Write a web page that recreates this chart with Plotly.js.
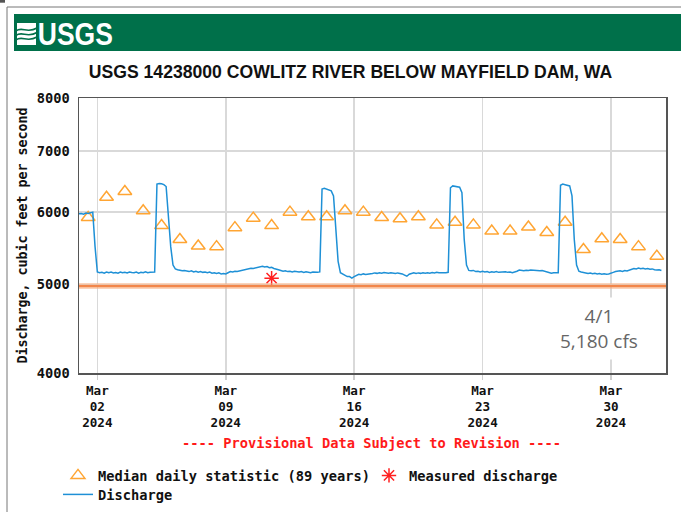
<!DOCTYPE html>
<html><head><meta charset="utf-8">
<script src="https://cdn.plot.ly/plotly-3.0.1.min.js"></script>
<style>html,body{margin:0;padding:0;background:#fff}</style>
</head><body><div id="chart" style="width:681px;height:512px"></div>
<script>
// ---------------- DATA ----------------
const siteTitle = 'USGS 14238000 COWLITZ RIVER BELOW MAYFIELD DAM, WA';
const provisionalText = '---- Provisional Data Subject to Revision ----';
const yAxisTitle = 'Discharge, cubic feet per second';
const agencyText = 'USGS';

// Discharge (cfs), read every 3 hours from 2024-03-01 00:00
const dischargeStart = [2024, 3, 1, 0];
const dischargeStepHours = 3;
const dischargeValues = [
  5975, 5980, 5970, 5985, 5980, 5990, 6000, 5500, // Mar 1
  5160, 5150, 5155, 5145, 5160, 5150, 5158, 5148, // Mar 2
  5152, 5145, 5160, 5150, 5155, 5148, 5160, 5152, // Mar 3
  5150, 5158, 5145, 5155, 5150, 5162, 5150, 5155, // Mar 4
  5155, 5160, 6440, 6450, 6445, 6430, 6400, 5900, // Mar 5
  5500, 5250, 5200, 5190, 5185, 5175, 5180, 5170, // Mar 6
  5165, 5175, 5160, 5170, 5158, 5165, 5155, 5160, // Mar 7
  5150, 5158, 5145, 5150, 5140, 5148, 5135, 5140, // Mar 8
  5135, 5150, 5165, 5160, 5170, 5165, 5172, 5180, // Mar 9
  5185, 5195, 5200, 5210, 5205, 5215, 5225, 5230, // Mar 10
  5235, 5225, 5230, 5215, 5220, 5205, 5200, 5190, // Mar 11
  5180, 5170, 5175, 5165, 5170, 5160, 5168, 5162, // Mar 12
  5160, 5165, 5155, 5162, 5158, 5150, 5160, 5155, // Mar 13
  5155, 5160, 6360, 6370, 6360, 6350, 6330, 6250, // Mar 14
  5700, 5300, 5150, 5130, 5120, 5100, 5100, 5082, // Mar 15
  5100, 5120, 5130, 5125, 5135, 5128, 5132, 5130, // Mar 16
  5140, 5148, 5142, 5150, 5145, 5152, 5148, 5145, // Mar 17
  5150, 5145, 5140, 5148, 5142, 5135, 5120, 5105, // Mar 18
  5130, 5145, 5150, 5140, 5148, 5142, 5150, 5145, // Mar 19
  5150, 5145, 5152, 5148, 5155, 5150, 5148, 5152, // Mar 20
  5150, 5155, 6380, 6410, 6400, 6395, 6390, 6300, // Mar 21
  5600, 5250, 5180, 5175, 5180, 5165, 5170, 5160, // Mar 22
  5168, 5160, 5165, 5155, 5162, 5158, 5165, 5155, // Mar 23
  5160, 5158, 5162, 5155, 5160, 5150, 5158, 5170, // Mar 24
  5185, 5180, 5175, 5182, 5178, 5185, 5180, 5176, // Mar 25
  5180, 5175, 5178, 5170, 5160, 5150, 5145, 5150, // Mar 26
  5148, 5150, 6420, 6440, 6430, 6420, 6410, 6250, // Mar 27
  5600, 5250, 5170, 5160, 5150, 5145, 5140, 5145, // Mar 28
  5138, 5142, 5135, 5140, 5132, 5138, 5130, 5135, // Mar 29
  5140, 5155, 5165, 5170, 5175, 5168, 5178, 5172, // Mar 30
  5185, 5195, 5205, 5200, 5210, 5202, 5208, 5200, // Mar 31
  5205, 5195, 5200, 5190, 5185, 5190, 5180        // Apr 1
];

// Median daily statistic (89 years), one per day at noon
const medianDates = [
  '2024-03-01 12:00','2024-03-02 12:00','2024-03-03 12:00','2024-03-04 12:00',
  '2024-03-05 12:00','2024-03-06 12:00','2024-03-07 12:00','2024-03-08 12:00',
  '2024-03-09 12:00','2024-03-10 12:00','2024-03-11 12:00','2024-03-12 12:00',
  '2024-03-13 12:00','2024-03-14 12:00','2024-03-15 12:00','2024-03-16 12:00',
  '2024-03-17 12:00','2024-03-18 12:00','2024-03-19 12:00','2024-03-20 12:00',
  '2024-03-21 12:00','2024-03-22 12:00','2024-03-23 12:00','2024-03-24 12:00',
  '2024-03-25 12:00','2024-03-26 12:00','2024-03-27 12:00','2024-03-28 12:00',
  '2024-03-29 12:00','2024-03-30 12:00','2024-03-31 12:00','2024-04-01 12:00'
];
const medianValues = [
  5920, 6230, 6320, 6020, 5800, 5600, 5510, 5500,
  5770, 5910, 5800, 6000, 5930, 5930, 6020, 6000,
  5920, 5900, 5930, 5810, 5850, 5810, 5720, 5720,
  5780, 5700, 5850, 5460, 5610, 5600, 5500, 5370
];

// Measured discharge
const measuredDates = ['2024-03-11 12:00'];
const measuredValues = [5080];

// Horizontal reference level (orange line)
const referenceLevel = 4980;

// Axis ticks
const xRange = ['2024-03-01 00:00', '2024-04-02 00:00'];
const xTickDates = ['2024-03-02', '2024-03-09', '2024-03-16', '2024-03-23', '2024-03-30'];
const xTickLabels = ['Mar<br>02<br>2024', 'Mar<br>09<br>2024', 'Mar<br>16<br>2024', 'Mar<br>23<br>2024', 'Mar<br>30<br>2024'];
const yTickValues = [4000, 5000, 6000, 7000, 8000];
const yTickLabels = ['4000', '5000', '6000', '7000', '8000'];
const yRangeValues = [4000, 8000];

const calloutText = '4/1<br>5,180 cfs';

// ---------------- BUILD ----------------
function pad2(n) { return (n < 10 ? '0' : '') + n; }
const dischargeDates = dischargeValues.map((v, i) => {
  const d = new Date(Date.UTC(dischargeStart[0], dischargeStart[1] - 1, dischargeStart[2], dischargeStart[3] + i * dischargeStepHours));
  return d.getUTCFullYear() + '-' + pad2(d.getUTCMonth() + 1) + '-' + pad2(d.getUTCDate()) + ' ' + pad2(d.getUTCHours()) + ':00';
});

const W = 681, H = 512;
const M = { l: 79, r: 15, t: 98, b: 139 };
const PW = W - M.l - M.r, PH = H - M.t - M.b;
const px = x => (x - M.l) / PW;          // pixel -> paper (x)
const py = y => (H - M.b - y) / PH;      // pixel -> paper (y)
const P = (x, y) => px(x).toFixed(5) + ',' + py(y).toFixed(5);

const mono = 'DejaVu Sans Mono, monospace';
const monoFont = { family: mono, size: 13.7, color: '#111', weight: 'bold' };
const tickFontX = { family: mono, size: 12.6, color: '#111', weight: 'bold' };

const traces = [
  {
    type: 'scatter', mode: 'markers', name: 'Median daily statistic (89 years)',
    x: medianDates, y: medianValues, legend: 'legend',
    marker: { symbol: 'triangle-up-open', size: 12, color: '#FFA533', line: { width: 1.5, color: '#FFA533' } },
    hoverinfo: 'skip'
  },
  {
    type: 'scatter', mode: 'markers', name: 'Measured discharge',
    x: measuredDates, y: measuredValues, legend: 'legend2',
    marker: { symbol: 'asterisk-open', size: 12, color: '#FF2020', line: { width: 1.5, color: '#FF2020' } },
    hoverinfo: 'skip'
  },
  {
    type: 'scatter', mode: 'lines', name: 'Discharge',
    x: dischargeDates, y: dischargeValues, legend: 'legend3',
    line: { color: '#1E90D6', width: 1.5 },
    hoverinfo: 'skip'
  }
];

const shapes = [
  // corner mark
  { type: 'rect', xref: 'paper', yref: 'paper', x0: px(-2), x1: px(5), y0: py(-2), y1: py(2.7),
    line: { width: 0 }, fillcolor: '#555555' },
  // outer frame
  { type: 'rect', xref: 'paper', yref: 'paper', x0: px(7), x1: px(700), y0: py(7), y1: py(530),
    line: { color: '#777', width: 1 }, fillcolor: 'rgba(0,0,0,0)' },
  // green banner
  { type: 'rect', xref: 'paper', yref: 'paper', x0: px(14), x1: px(690), y0: py(14), y1: py(51),
    line: { width: 0 }, fillcolor: '#00704A' },
  // logo field
  { type: 'rect', xref: 'paper', yref: 'paper', x0: px(17), x1: px(36), y0: py(23), y1: py(45),
    line: { width: 0 }, fillcolor: '#FFFFFF' },
  { type: 'path', xref: 'paper', yref: 'paper', line: { color: '#00704A', width: 1.6 },
    path: 'M' + P(16, 31) + ' C' + P(22, 26) + ' ' + P(27, 34) + ' ' + P(37, 28) },
  { type: 'path', xref: 'paper', yref: 'paper', line: { color: '#00704A', width: 1.6 },
    path: 'M' + P(16, 35.5) + ' C' + P(22, 30.5) + ' ' + P(27, 38.5) + ' ' + P(37, 32.5) },
  { type: 'path', xref: 'paper', yref: 'paper', line: { color: '#00704A', width: 1.6 },
    path: 'M' + P(16, 40) + ' C' + P(22, 35) + ' ' + P(27, 43) + ' ' + P(37, 37) },
  // reference level line (halo + core)
  { type: 'line', xref: 'paper', x0: 0, x1: 1, yref: 'y', y0: referenceLevel, y1: referenceLevel,
    line: { color: 'rgba(248,175,130,0.55)', width: 6 }, layer: 'above' },
  { type: 'line', xref: 'paper', x0: 0, x1: 1, yref: 'y', y0: referenceLevel, y1: referenceLevel,
    line: { color: '#F2864A', width: 2.2 }, layer: 'above' }
];

const annotations = [
  { xref: 'paper', yref: 'paper', x: px(75.5), y: py(34), xanchor: 'center', yanchor: 'middle',
    text: agencyText, showarrow: false,
    font: { family: 'Liberation Sans, Arial, sans-serif', size: 32, color: '#FFFFFF', weight: 'bold' } },
  { xref: 'paper', yref: 'paper', x: px(371), y: py(442.6), xanchor: 'center', yanchor: 'middle',
    text: provisionalText, showarrow: false,
    font: { family: mono, size: 13.7, color: '#FF1A1A', weight: 'bold' } },
  { xref: 'paper', yref: 'paper', x: px(599), y: py(328), xanchor: 'center', yanchor: 'middle',
    text: calloutText, showarrow: false, align: 'center', bgcolor: '#FFFFFF', borderpad: 5,
    font: { family: 'Open Sans, sans-serif', size: 19, color: '#666666' } }
];

const legendBase = { orientation: 'v', bgcolor: 'rgba(0,0,0,0)', borderwidth: 0, font: monoFont,
  xanchor: 'left', yanchor: 'middle', tracegroupgap: 0 };

const layout = {
  width: W, height: H,
  margin: Object.assign({ autoexpand: false, pad: 0 }, M),
  paper_bgcolor: '#FFFFFF', plot_bgcolor: '#FFFFFF',
  showlegend: true,
  title: { text: siteTitle, xref: 'container', x: 350.5 / W, xanchor: 'center', yref: 'container', y: 1 - 72 / H, yanchor: 'middle',
    font: { family: 'Liberation Sans, Arial, sans-serif', size: 17.6, color: '#111', weight: 'bold' } },
  xaxis: {
    type: 'date', range: xRange, tickmode: 'array', tickvals: xTickDates, ticktext: xTickLabels,
    showgrid: true, gridcolor: '#D9D9D9', gridwidth: 1.5, zeroline: false,
    showline: true, mirror: true, linecolor: '#555555', linewidth: 1.5,
    ticks: 'outside', ticklen: 5, tickwidth: 1.5, tickcolor: '#CFCFCF',
    tickfont: tickFontX, fixedrange: true
  },
  yaxis: {
    type: 'log', range: yRangeValues.map(Math.log10), tickmode: 'array', tickvals: yTickValues, ticktext: yTickLabels,
    showgrid: true, gridcolor: '#D9D9D9', gridwidth: 1.5, zeroline: false,
    showline: true, mirror: true, linecolor: '#555555', linewidth: 1.5,
    ticks: 'outside', ticklen: 5, tickcolor: 'rgba(0,0,0,0)',
    tickfont: monoFont, fixedrange: true,
    title: { text: yAxisTitle, font: { family: mono, size: 13.3, color: '#111', weight: 'bold' }, standoff: 6 }
  },
  legend: Object.assign({}, legendBase, { x: px(58), y: py(475.5) }),
  legend2: Object.assign({}, legendBase, { x: px(369), y: py(475.5) }),
  legend3: Object.assign({}, legendBase, { x: px(58), y: py(494.5) }),
  shapes: shapes,
  annotations: annotations
};

Plotly.newPlot('chart', traces, layout, { staticPlot: true, displayModeBar: false }).then(gd => {
  // condense the agency wordmark to the banner's narrow lettering
  const t = gd.querySelector('.annotation[data-index="0"] text.annotation-text');
  if (t) { t.setAttribute('textLength', '75'); t.setAttribute('lengthAdjust', 'spacingAndGlyphs'); }
});
</script>
</body></html>
